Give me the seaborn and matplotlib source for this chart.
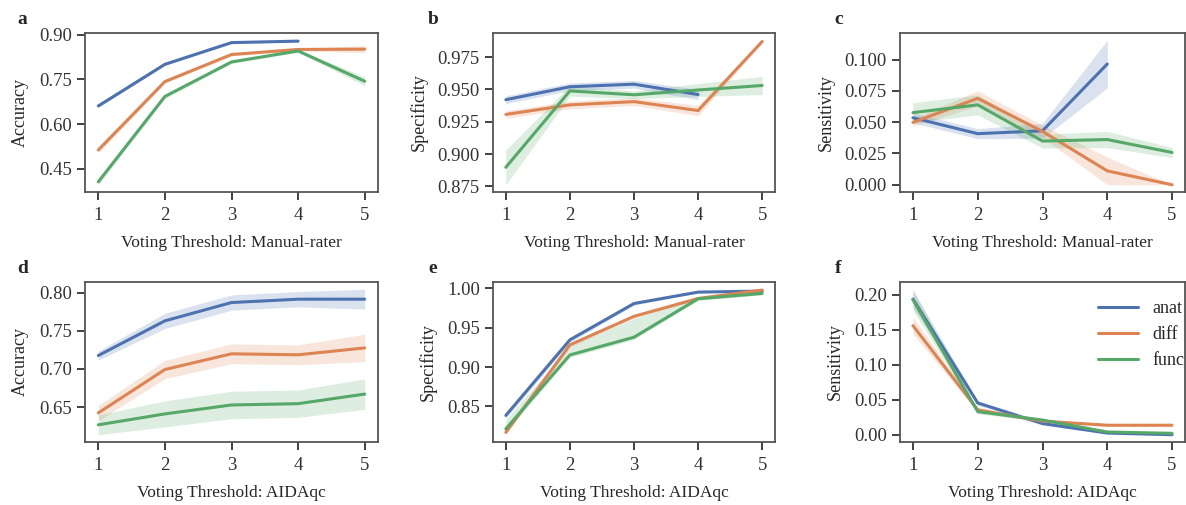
import numpy as np
import pandas as pd
import matplotlib
matplotlib.use("Agg")
import matplotlib.pyplot as plt
import seaborn as sns

thresholds = [1, 2, 3, 4, 5]
modalities = ["anat", "diff", "func"]
nan = np.nan

# panel a: accuracy vs manual-rater threshold
acc_manual = {
    "anat": [0.661, 0.801, 0.874, 0.879, nan],
    "diff": [0.513, 0.743, 0.834, 0.851, 0.852],
    "func": [0.406, 0.693, 0.809, 0.846, 0.744],
}
acc_manual_err = {
    "anat": [0.005, 0.004, 0.003, 0.003, nan],
    "diff": [0.010, 0.006, 0.005, 0.004, 0.012],
    "func": [0.010, 0.007, 0.005, 0.005, 0.015],
}

# panel b: specificity vs manual-rater threshold
spec_manual = {
    "anat": [0.942, 0.952, 0.954, 0.946, nan],
    "diff": [0.9306, 0.938, 0.9405, 0.9336, 0.987],
    "func": [0.8897, 0.9488, 0.9458, 0.9495, 0.953],
}
spec_manual_err = {
    "anat": [0.003, 0.003, 0.003, 0.004, nan],
    "diff": [0.003, 0.003, 0.003, 0.004, 0.001],
    "func": [0.0135, 0.004, 0.003, 0.005, 0.007],
}

# panel c: sensitivity vs manual-rater threshold
sens_manual = {
    "anat": [0.0535, 0.0408, 0.0431, 0.0964, nan],
    "diff": [0.0498, 0.0690, 0.0426, 0.0111, 0.0],
    "func": [0.0576, 0.0638, 0.0349, 0.0361, 0.0258],
}
sens_manual_err = {
    "anat": [0.004, 0.004, 0.006, 0.019, nan],
    "diff": [0.003, 0.006, 0.005, 0.011, 0.0],
    "func": [0.008, 0.008, 0.0055, 0.0065, 0.004],
}

# panel d: accuracy vs AIDAqc threshold
acc_aida = {
    "anat": [0.7175, 0.763, 0.787, 0.7914, 0.7914],
    "diff": [0.6423, 0.6992, 0.7198, 0.7185, 0.7275],
    "func": [0.6267, 0.641, 0.6527, 0.6544, 0.667],
}
acc_aida_err = {
    "anat": [0.006, 0.010, 0.010, 0.010, 0.013],
    "diff": [0.010, 0.012, 0.013, 0.013, 0.018],
    "func": [0.013, 0.017, 0.018, 0.018, 0.020],
}

# panel e: specificity vs AIDAqc threshold
spec_aida = {
    "anat": [0.8385, 0.9346, 0.9808, 0.9953, 0.9966],
    "diff": [0.8170, 0.9282, 0.9645, 0.9872, 0.9979],
    "func": [0.8214, 0.9154, 0.938, 0.9868, 0.9936],
}
# (below, above) the line; func band is lopsided here
spec_aida_err = {
    "anat": [0.004, 0.003, 0.002, 0.001, 0.001],
    "diff": [0.003, 0.003, 0.002, 0.001, 0.001],
    "func": ([0.004, 0.003, 0.003, 0.002, 0.002],
             [0.012, 0.011, 0.024, 0.002, 0.002]),
}

# panel f: sensitivity vs AIDAqc threshold
sens_aida = {
    "anat": [0.194, 0.0454, 0.016, 0.0024, 0.0],
    "diff": [0.156, 0.0356, 0.0195, 0.0136, 0.0136],
    "func": [0.193, 0.033, 0.021, 0.0039, 0.002],
}
sens_aida_err = {
    "anat": [0.012, 0.003, 0.002, 0.001, 0.001],
    "diff": [0.012, 0.003, 0.002, 0.002, 0.002],
    "func": [0.015, 0.003, 0.002, 0.002, 0.002],
}

panels = [
    ("a", acc_manual, acc_manual_err, "Accuracy", "Voting Threshold: Manual-rater", [0.45, 0.60, 0.75, 0.90], "{:.2f}"),
    ("b", spec_manual, spec_manual_err, "Specificity", "Voting Threshold: Manual-rater", [0.875, 0.900, 0.925, 0.950, 0.975], "{:.3f}"),
    ("c", sens_manual, sens_manual_err, "Sensitivity", "Voting Threshold: Manual-rater", [0.0, 0.025, 0.05, 0.075, 0.1], "{:.3f}"),
    ("d", acc_aida, acc_aida_err, "Accuracy", "Voting Threshold: AIDAqc", [0.65, 0.70, 0.75, 0.80], "{:.2f}"),
    ("e", spec_aida, spec_aida_err, "Specificity", "Voting Threshold: AIDAqc", [0.85, 0.90, 0.95, 1.00], "{:.2f}"),
    ("f", sens_aida, sens_aida_err, "Sensitivity", "Voting Threshold: AIDAqc", [0.0, 0.05, 0.10, 0.15, 0.20], "{:.2f}"),
]

sns.set_theme(style="ticks")
plt.rcParams["font.family"] = ["Liberation Serif", "DejaVu Serif"]
plt.rcParams["axes.edgecolor"] = "#555555"
plt.rcParams["axes.linewidth"] = 1.3
plt.rcParams["xtick.color"] = "#333333"
plt.rcParams["ytick.color"] = "#333333"
plt.rcParams["xtick.major.size"] = 6
plt.rcParams["ytick.major.size"] = 6
plt.rcParams["xtick.major.width"] = 1.3
plt.rcParams["ytick.major.width"] = 1.3

palette = dict(zip(modalities, sns.color_palette("deep", 3)))

fig = plt.figure(figsize=(11.86, 5.05), dpi=100)

col_px = [(85, 378), (493, 775), (900, 1185)]
row_px = [(33, 192), (282, 442)]
W, H = 1186, 505

for i, (letter, means, errs, ylabel, xlabel, yticks, fmt) in enumerate(panels):
    r, c = divmod(i, 3)
    x0, x1 = col_px[c]
    t, b = row_px[r]
    ax = fig.add_axes([x0 / W, (H - b) / H, (x1 - x0) / W, (b - t) / H])

    rows = []
    for m in modalities:
        for x, v in zip(thresholds, means[m]):
            rows.append({"threshold": x, "value": v, "modality": m})
    df = pd.DataFrame(rows).dropna()

    for m in modalities:
        mu = np.array(means[m], dtype=float)
        if isinstance(errs[m], tuple):
            e_lo, e_hi = (np.array(v, dtype=float) for v in errs[m])
        else:
            e_lo = e_hi = np.array(errs[m], dtype=float)
        lo = mu - e_lo
        if ylabel == "Sensitivity":
            lo = np.clip(lo, 0, None)
        ax.fill_between(thresholds, lo, mu + e_hi, color=palette[m], alpha=0.2, lw=0)

    sns.lineplot(data=df, x="threshold", y="value", hue="modality", palette=palette,
                 linewidth=2.2, ax=ax, legend=(letter == "f"))

    ax.set_xticks(thresholds)
    ax.set_yticks(yticks)
    ax.set_yticklabels([fmt.format(v) for v in yticks])
    ax.tick_params(labelsize=13.5)
    ax.tick_params(axis="x", pad=5)
    ax.set_xlabel(xlabel, fontsize=12.5, labelpad=8)
    ax.set_ylabel(ylabel, fontsize=13, labelpad=7)
    ax.text(-0.23, 1.03, letter, transform=ax.transAxes, fontsize=14,
            fontweight="bold", va="bottom", ha="left")

    if letter == "f":
        ax.legend(frameon=False, fontsize=13, loc="upper right",
                  bbox_to_anchor=(1.06, 1.0), handlelength=2.2,
                  borderaxespad=0.6)

fig.savefig("out.png", dpi=100)
